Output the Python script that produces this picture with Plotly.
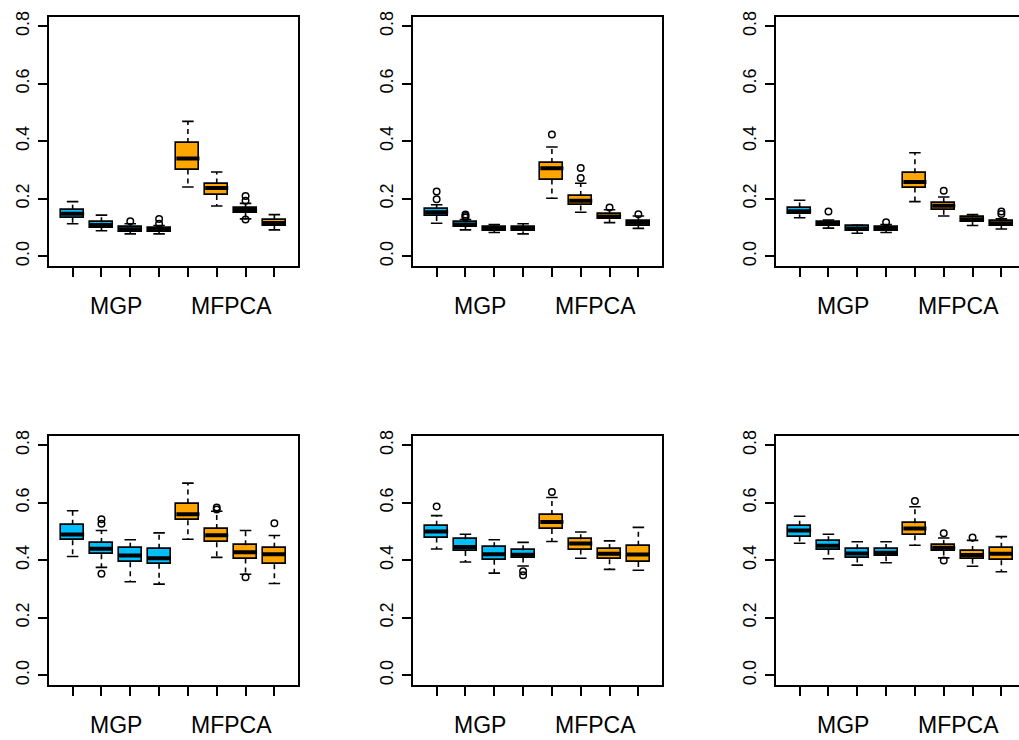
import plotly.graph_objects as go

# ---- data: five-number summaries per panel (6 panels x 8 boxes) ----
methods = ["MGP"] * 4 + ["MFPCA"] * 4
group_labels = ["MGP", "MFPCA"]
positions = [1, 2, 3, 4, 5, 6, 7, 8]
y_ticks = [0.0, 0.2, 0.4, 0.6, 0.8]

lower_whisker = [
    [0.113, 0.089, 0.078, 0.078, 0.241, 0.175, 0.130, 0.092],
    [0.115, 0.092, 0.083, 0.078, 0.202, 0.153, 0.117, 0.097],
    [0.134, 0.098, 0.080, 0.083, 0.190, 0.140, 0.107, 0.095],
    [0.413, 0.375, 0.325, 0.317, 0.473, 0.410, 0.351, 0.319],
    [0.439, 0.394, 0.355, 0.380, 0.465, 0.407, 0.368, 0.365],
    [0.459, 0.405, 0.383, 0.391, 0.452, 0.408, 0.379, 0.360],
]
q1 = [
    [0.134, 0.099, 0.086, 0.085, 0.302, 0.213, 0.151, 0.107],
    [0.140, 0.103, 0.089, 0.087, 0.267, 0.177, 0.129, 0.107],
    [0.146, 0.105, 0.090, 0.089, 0.239, 0.162, 0.121, 0.107],
    [0.469, 0.421, 0.393, 0.388, 0.539, 0.462, 0.406, 0.386],
    [0.479, 0.432, 0.402, 0.409, 0.508, 0.437, 0.403, 0.394],
    [0.482, 0.436, 0.409, 0.414, 0.487, 0.434, 0.405, 0.400],
]
median = [
    [0.148, 0.109, 0.094, 0.092, 0.340, 0.237, 0.161, 0.116],
    [0.153, 0.111, 0.097, 0.095, 0.306, 0.193, 0.138, 0.117],
    [0.157, 0.112, 0.097, 0.095, 0.258, 0.176, 0.129, 0.115],
    [0.489, 0.440, 0.416, 0.407, 0.560, 0.487, 0.428, 0.421],
    [0.500, 0.446, 0.421, 0.419, 0.533, 0.458, 0.422, 0.420],
    [0.503, 0.450, 0.423, 0.426, 0.510, 0.443, 0.418, 0.422],
]
q3 = [
    [0.162, 0.118, 0.101, 0.099, 0.394, 0.253, 0.169, 0.126],
    [0.166, 0.118, 0.103, 0.102, 0.324, 0.210, 0.146, 0.124],
    [0.170, 0.118, 0.104, 0.102, 0.289, 0.186, 0.136, 0.122],
    [0.523, 0.460, 0.443, 0.440, 0.597, 0.508, 0.452, 0.443],
    [0.520, 0.473, 0.445, 0.435, 0.557, 0.473, 0.439, 0.450],
    [0.520, 0.466, 0.438, 0.439, 0.528, 0.453, 0.432, 0.443],
]
upper_whisker = [
    [0.190, 0.143, 0.113, 0.107, 0.469, 0.293, 0.184, 0.145],
    [0.179, 0.128, 0.110, 0.113, 0.380, 0.254, 0.162, 0.140],
    [0.195, 0.126, 0.108, 0.110, 0.360, 0.206, 0.145, 0.130],
    [0.572, 0.503, 0.471, 0.495, 0.668, 0.570, 0.503, 0.486],
    [0.555, 0.490, 0.471, 0.462, 0.618, 0.498, 0.467, 0.514],
    [0.553, 0.490, 0.464, 0.464, 0.586, 0.477, 0.469, 0.482],
]
outliers = [
    [[], [], [0.122], [0.113, 0.130], [], [], [0.193, 0.210, 0.128], []],
    [[0.198, 0.225], [0.135, 0.140, 0.145], [], [], [0.423], [0.272, 0.307], [0.170], [0.146]],
    [[], [0.156], [], [0.118], [], [0.228], [], [0.147, 0.156]],
    [[], [0.527, 0.542, 0.353], [], [], [], [0.576, 0.583], [0.341], [0.528]],
    [[0.587], [], [], [0.348, 0.362], [0.637], [], [], []],
    [[], [], [], [], [0.606], [0.399, 0.494], [0.479], []],
]

# ---- styling / layout ----
method_colors = {"MGP": "#00BFFF", "MFPCA": "#FFA500"}
FONT = "Liberation Sans, Arial, Helvetica, sans-serif"
FIG_W, FIG_H = 1019, 740
COL_LEFT = [49, 413, 776]
ROW_TOP = [11, 434]
PANEL_W, PANEL_H = 249, 251
LABEL_GAP = 41
BOX_HALF = 0.4
CAP_HALF = 0.2

# R-style axis limits: data limits widened by 4% on each side
x_lo, x_hi = 0.5, 8.5
x_pad = 0.04 * (x_hi - x_lo)
X_RANGE = [x_lo - x_pad, x_hi + x_pad]
y_lo, y_hi = 0.0, 0.8
y_pad = 0.04 * (y_hi - y_lo)
Y_RANGE = [y_lo - y_pad, y_hi + y_pad]

fig = go.Figure()
layout_axes = {}
annotations = []

for p in range(6):
    row, col = divmod(p, 3)
    idx = "" if p == 0 else str(p + 1)
    xa, ya = "x" + idx, "y" + idx

    # boxes (Q1..Q3)
    fig.add_trace(go.Bar(
        x=positions, base=q1[p],
        y=[b - a for a, b in zip(q1[p], q3[p])],
        width=2 * BOX_HALF,
        marker=dict(color=[method_colors[m] for m in methods],
                    line=dict(color="black", width=1.6)),
        xaxis=xa, yaxis=ya, showlegend=False, hoverinfo="skip",
    ))

    # dashed whiskers
    wx, wy = [], []
    for i, pos in enumerate(positions):
        wx += [pos, pos, None, pos, pos, None]
        wy += [q3[p][i], upper_whisker[p][i], None, q1[p][i], lower_whisker[p][i], None]
    fig.add_trace(go.Scatter(x=wx, y=wy, mode="lines",
                             line=dict(color="black", width=1.6, dash="5px,4px"),
                             xaxis=xa, yaxis=ya, showlegend=False, hoverinfo="skip"))

    # whisker caps
    cx, cy = [], []
    for i, pos in enumerate(positions):
        for v in (upper_whisker[p][i], lower_whisker[p][i]):
            cx += [pos - CAP_HALF, pos + CAP_HALF, None]
            cy += [v, v, None]
    fig.add_trace(go.Scatter(x=cx, y=cy, mode="lines",
                             line=dict(color="black", width=1.6),
                             xaxis=xa, yaxis=ya, showlegend=False, hoverinfo="skip"))

    # medians
    mx, my = [], []
    for i, pos in enumerate(positions):
        mx += [pos - BOX_HALF, pos + BOX_HALF, None]
        my += [median[p][i], median[p][i], None]
    fig.add_trace(go.Scatter(x=mx, y=my, mode="lines",
                             line=dict(color="black", width=4),
                             xaxis=xa, yaxis=ya, showlegend=False, hoverinfo="skip"))

    # outliers
    ox, oy = [], []
    for i, pos in enumerate(positions):
        for v in outliers[p][i]:
            ox.append(pos)
            oy.append(v)
    fig.add_trace(go.Scatter(x=ox, y=oy, mode="markers",
                             marker=dict(symbol="circle-open", size=6.5, color="black",
                                         line=dict(width=1.5, color="black")),
                             xaxis=xa, yaxis=ya, showlegend=False, hoverinfo="skip"))

    # panel geometry
    left_px = COL_LEFT[col]
    right_px = left_px + PANEL_W
    top_px = ROW_TOP[row]
    bot_px = top_px + PANEL_H
    x_range = list(X_RANGE)
    if right_px > FIG_W:
        x_range[1] = X_RANGE[0] + (FIG_W - left_px) / PANEL_W * (X_RANGE[1] - X_RANGE[0])
        right_px = FIG_W
    x_dom = [left_px / FIG_W, right_px / FIG_W]
    y_dom = [1 - bot_px / FIG_H, 1 - top_px / FIG_H]

    layout_axes["xaxis" + idx] = dict(
        domain=x_dom, range=x_range, anchor=ya,
        showgrid=False, zeroline=False, showline=True, linecolor="black", linewidth=2,
        mirror=True, ticks="outside", ticklen=9, tickwidth=1.6, tickcolor="black",
        tickvals=positions, showticklabels=False,
    )
    layout_axes["yaxis" + idx] = dict(
        domain=y_dom, range=Y_RANGE, anchor=xa,
        showgrid=False, zeroline=False, showline=True, linecolor="black", linewidth=2,
        mirror=(col < 2), ticks="outside", ticklen=9, tickwidth=1.6, tickcolor="black",
        tickvals=y_ticks, ticktext=[f"{v:.1f}" for v in y_ticks], tickangle=-90,
        tickfont=dict(family=FONT, size=18, color="black"), ticklabelstandoff=2,
    )

    # group labels under each half of the panel
    for g, name in enumerate(group_labels):
        members = [pos for pos, m in zip(positions, methods) if m == name]
        annotations.append(dict(
            x=sum(members) / len(members), xref=xa,
            y=1 - (bot_px + LABEL_GAP) / FIG_H, yref="paper",
            text=name, showarrow=False, xanchor="center", yanchor="middle",
            font=dict(family=FONT, size=23, color="black"),
        ))

fig.update_layout(
    width=FIG_W, height=FIG_H,
    margin=dict(l=0, r=0, t=0, b=0),
    paper_bgcolor="white", plot_bgcolor="white",
    annotations=annotations, bargap=0, showlegend=False,
    **layout_axes,
)

fig.write_html("out.html")
